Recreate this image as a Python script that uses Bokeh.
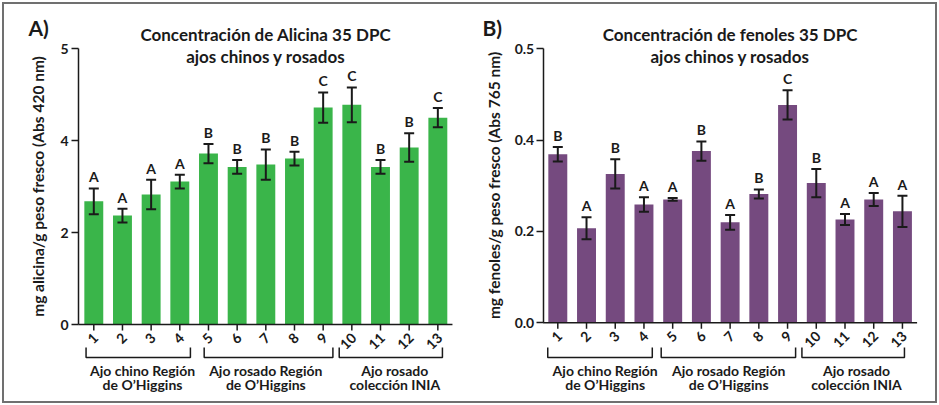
import math
from bokeh.plotting import figure
from bokeh.models import Range1d, ColumnDataSource, Whisker, TeeHead, FixedTicker
from bokeh.layouts import row
from bokeh.embed import file_html
from bokeh.resources import INLINE
from bokeh.core.properties import value

# ---------------- data ----------------
sample_ids = [1, 2, 3, 4, 5, 6, 7, 8, 9, 10, 11, 12, 13]
sample_labels = ["1", "2", "3", "4", "5", "6", "7", "8", "9", "10", "11", "12", "13"]

alicina = [2.68, 2.37, 2.83, 3.11, 3.72, 3.43, 3.48, 3.61, 4.72, 4.78, 3.43, 3.85, 4.50]
alicina_err = [0.28, 0.15, 0.32, 0.15, 0.21, 0.15, 0.33, 0.15, 0.33, 0.38, 0.15, 0.31, 0.21]
alicina_letters = ["A", "A", "A", "A", "B", "B", "B", "B", "C", "C", "B", "B", "C"]

fenoles = [0.369, 0.207, 0.326, 0.259, 0.270, 0.376, 0.220, 0.282, 0.477, 0.306, 0.226, 0.270, 0.244]
fenoles_err = [0.016, 0.024, 0.032, 0.016, 0.003, 0.021, 0.016, 0.010, 0.032, 0.031, 0.012, 0.014, 0.034]
fenoles_letters = ["B", "A", "B", "A", "A", "B", "A", "B", "C", "B", "A", "A", "A"]

group_line1 = ["Ajo chino Región", "Ajo rosado Región", "Ajo rosado"]
group_line2 = ["de O\u2019Higgins", "de O\u2019Higgins", "colección INIA"]

alicina_ticks = [0, 2, 4, 6]
alicina_tick_labels = ["0", "2", "4", "5"]
fenoles_ticks = [0, 0.2, 0.4, 0.6]
fenoles_tick_labels = ["0.0", "0.2", "0.4", "0.5"]

FONT = "Lato"
INK = "#1a1a1a"
FIG_TOP = 4
FIG_H = 397
FRAME_TOP = 12
FRAME_BOTTOM = 394


def make_panel(letter, letter_px, title1, title2, ylabel, vals, errs, letters, ticks, tick_labels,
               color, fig_left, fig_w, axis_px, zero_px, ppu, bar1_px, ppx,
               spans, label_centers, label_standoff, axis_label_standoff):
    frame_left = fig_left + 6
    frame_right = fig_left + fig_w - 4

    def ypx(page_y):
        return (zero_px - page_y) / ppu

    def xpx(page_x):
        return 1 + (page_x - bar1_px) / ppx

    p = figure(width=fig_w, height=FIG_H, output_backend="svg", toolbar_location=None,
               x_range=Range1d(xpx(frame_left), xpx(frame_right)),
               y_range=Range1d(ypx(FRAME_BOTTOM), ypx(FRAME_TOP)),
               x_axis_location=None,
               min_border_left=frame_left - fig_left, min_border_right=fig_left + fig_w - frame_right,
               min_border_top=FRAME_TOP - FIG_TOP, min_border_bottom=FIG_TOP + FIG_H - FRAME_BOTTOM)
    p.outline_line_color = None
    p.xgrid.visible = False
    p.ygrid.visible = False

    x_axis0 = xpx(axis_px)
    ax = p.yaxis[0]
    ax.fixed_location = x_axis0
    ax.ticker = FixedTicker(ticks=ticks)
    ax.major_label_overrides = {t: s for t, s in zip(ticks, tick_labels)}
    ax.bounds = (ticks[0], ticks[-1])
    ax.axis_line_color = INK
    ax.axis_line_width = 1.5
    ax.major_tick_line_color = INK
    ax.major_tick_line_width = 1.5
    ax.major_tick_out = 7
    ax.major_tick_in = 0
    ax.minor_tick_line_color = None
    ax.major_label_standoff = label_standoff
    ax.major_label_text_font = FONT
    ax.major_label_text_font_size = "14px"
    ax.major_label_text_font_style = "bold"
    ax.major_label_text_color = INK
    ax.axis_label = ylabel
    ax.axis_label_text_font = FONT
    ax.axis_label_text_font_size = "15.5px"
    ax.axis_label_text_font_style = "bold"
    ax.axis_label_text_color = INK
    ax.axis_label_standoff = axis_label_standoff

    upper = [v + e for v, e in zip(vals, errs)]
    lower = [v - e for v, e in zip(vals, errs)]
    src = ColumnDataSource(dict(x=sample_ids, top=vals, upper=upper, lower=lower,
                                letter=letters, lab=sample_labels))

    p.vbar(x="x", top="top", width=0.66, source=src, fill_color=color, line_color=None)

    head = dict(size=10, line_width=2, line_color=INK)
    p.add_layout(Whisker(source=src, base="x", upper="upper", lower="lower",
                         line_width=2, line_color=INK, level="overlay",
                         upper_head=TeeHead(**head), lower_head=TeeHead(**head)))

    p.text(x="x", y="upper", text="letter", source=src, text_align="center",
           text_baseline="bottom", y_offset=-3, text_font=value(FONT),
           text_font_size="14px", text_font_style="bold", text_color=INK)

    # x axis line and ticks
    n = len(sample_ids)
    p.segment(x0=[x_axis0], y0=[0], x1=[n + 0.51], y1=[0], line_color=INK, line_width=1.5)
    p.segment(x0=sample_ids, y0=[0] * n, x1=sample_ids, y1=[ypx(zero_px + 6)] * n,
              line_color=INK, line_width=1.5)
    p.text(x="x", y=0, text="lab", source=src, angle=math.pi / 4, text_align="right",
           text_baseline="middle", x_offset=2, y_offset=11, text_font=value(FONT),
           text_font_size="14px", text_font_style="bold", text_color=INK)

    # group brackets
    yb = ypx(357)
    yt = ypx(347)
    xs = [[a, a, b, b] for a, b in spans]
    ys = [[yt, yb, yb, yt] for _ in spans]
    p.multi_line(xs=xs, ys=ys, line_color=INK, line_width=1.5)
    p.text(x=label_centers, y=[ypx(369.5)] * 3, text=group_line1, text_align="center",
           text_baseline="middle", text_font=value(FONT), text_font_size="14px",
           text_font_style="bold", text_color=INK)
    p.text(x=label_centers, y=[ypx(383.5)] * 3, text=group_line2, text_align="center",
           text_baseline="middle", text_font=value(FONT), text_font_size="14px",
           text_font_style="bold", text_color=INK)

    # titles
    xc = (1 + n) / 2
    p.text(x=[xc, xc], y=[ypx(34), ypx(56)], text=[title1, title2], text_align="center",
           text_baseline="middle", text_font=value(FONT), text_font_size="17px",
           text_font_style="bold", text_color=INK)

    # panel letter
    p.text(x=[xpx(letter_px)], y=[ypx(27)], text=[letter], text_align="left",
           text_baseline="middle", text_font=value(FONT), text_font_size="21px",
           text_font_style="bold", text_color=INK)
    return p


pA = make_panel("A)", 28, "Concentración de Alicina 35 DPC", "ajos chinos y rosados",
                "mg alicina/g peso fresco (Abs 420 nm)", alicina, alicina_err, alicina_letters,
                alicina_ticks, alicina_tick_labels, "#3ab54a",
                fig_left=4, fig_w=466, axis_px=78,
                zero_px=324, ppu=45.95, bar1_px=93.3, ppx=28.67,
                spans=[(0.73, 4.37), (4.85, 9.34), (9.56, 13.16)],
                label_centers=[2.7, 7.0, 11.5], label_standoff=3, axis_label_standoff=10)

pB = make_panel("B)", 482, "Concentración de fenoles 35 DPC", "ajos chinos y rosados",
                "mg fenoles/g peso fresco (Abs 765 nm)", fenoles, fenoles_err, fenoles_letters,
                fenoles_ticks, fenoles_tick_labels, "#754a7f",
                fig_left=470, fig_w=465, axis_px=542.7,
                zero_px=322.3, ppu=456.7, bar1_px=557.3, ppx=28.72,
                spans=[(0.65, 4.29), (4.6, 9.28), (9.5, 13.07)],
                label_centers=[2.65, 6.95, 11.4], label_standoff=2, axis_label_standoff=9)

layout = row(pA, pB, styles={"border": "2px solid #707070", "margin": "2px"})
open("out.html", "w").write(file_html(layout, INLINE))
